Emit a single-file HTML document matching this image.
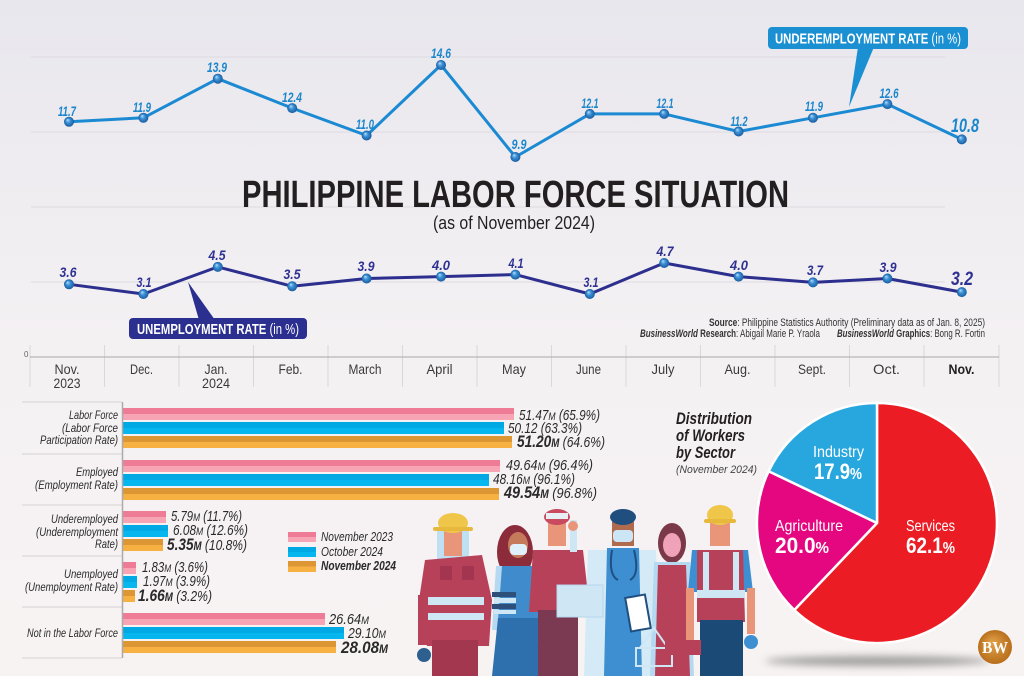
<!DOCTYPE html>
<html><head><meta charset="utf-8"><style>
html,body{margin:0;padding:0;width:1024px;height:676px;overflow:hidden;background:#f7f2f2}
svg{display:block}
text{font-family:"Liberation Sans Narrow","Liberation Sans",sans-serif}
</style></head><body>
<svg width="1024" height="676" viewBox="0 0 1024 676" xmlns="http://www.w3.org/2000/svg">
<defs>
<linearGradient id="bg" x1="0" y1="0" x2="0" y2="1">
<stop offset="0" stop-color="#e8e7ed"/><stop offset="0.5" stop-color="#f4f1f3"/><stop offset="1" stop-color="#f8f3f3"/>
</linearGradient>
<radialGradient id="dot" cx="0.5" cy="0.5" r="0.5" fx="0.35" fy="0.3">
<stop offset="0" stop-color="#b9e0fb"/><stop offset="0.45" stop-color="#3a90d6"/><stop offset="1" stop-color="#1a5c9e"/>
</radialGradient>
<linearGradient id="gp" x1="0" y1="0" x2="0" y2="1"><stop offset="0.5" stop-color="#ef7c97"/><stop offset="0.5" stop-color="#f7a5b4"/></linearGradient>
<linearGradient id="gb" x1="0" y1="0" x2="0" y2="1"><stop offset="0.5" stop-color="#00a9e3"/><stop offset="0.5" stop-color="#05b6ef"/></linearGradient>
<linearGradient id="go" x1="0" y1="0" x2="0" y2="1"><stop offset="0.5" stop-color="#dc9634"/><stop offset="0.5" stop-color="#f7b142"/></linearGradient>
<radialGradient id="bw" cx="0.5" cy="0.5" r="0.5" fx="0.4" fy="0.35"><stop offset="0" stop-color="#e3a24a"/><stop offset="1" stop-color="#b86f1c"/></radialGradient>
<filter id="blur" x="-20%" y="-200%" width="140%" height="500%"><feGaussianBlur stdDeviation="4"/></filter>
</defs>
<rect width="1024" height="676" fill="url(#bg)"/>

<!-- top chart gridlines -->
<g stroke="#dedbe2" stroke-width="1">
<line x1="31" y1="57" x2="945" y2="57"/><line x1="31" y1="132" x2="945" y2="132"/>
<line x1="31" y1="207" x2="945" y2="207"/><line x1="31" y1="282" x2="945" y2="282"/>
</g>

<!-- underemployment line -->
<polyline fill="none" stroke="#1b8ad3" stroke-width="3" stroke-linejoin="round"
points="69,121.8 143.4,117.8 217.8,78.7 292.2,108.1 366.6,135.5 441,65 515.4,157 589.8,113.9 664.2,113.9 738.6,131.5 813,117.8 887.4,104.1 961.8,139.4"/>
<g fill="url(#dot)">
<circle cx="69" cy="121.8" r="5"/><circle cx="143.4" cy="117.8" r="5"/><circle cx="217.8" cy="78.7" r="5"/><circle cx="292.2" cy="108.1" r="5"/><circle cx="366.6" cy="135.5" r="5"/><circle cx="441" cy="65" r="5"/><circle cx="515.4" cy="157" r="5"/><circle cx="589.8" cy="113.9" r="5"/><circle cx="664.2" cy="113.9" r="5"/><circle cx="738.6" cy="131.5" r="5"/><circle cx="813" cy="117.8" r="5"/><circle cx="887.4" cy="104.1" r="5"/><circle cx="961.8" cy="139.4" r="5"/>
</g>
<g fill="#1b86cc" font-style="italic" font-weight="bold" font-size="14" text-anchor="middle">
<text x="67" y="116" textLength="18" lengthAdjust="spacingAndGlyphs">11.7</text>
<text x="142" y="112" textLength="18" lengthAdjust="spacingAndGlyphs">11.9</text>
<text x="217" y="72" textLength="20" lengthAdjust="spacingAndGlyphs">13.9</text>
<text x="292" y="102" textLength="20" lengthAdjust="spacingAndGlyphs">12.4</text>
<text x="365" y="129" textLength="18" lengthAdjust="spacingAndGlyphs">11.0</text>
<text x="441" y="58" textLength="20" lengthAdjust="spacingAndGlyphs">14.6</text>
<text x="519" y="149" textLength="15" lengthAdjust="spacingAndGlyphs">9.9</text>
<text x="590" y="108" textLength="17" lengthAdjust="spacingAndGlyphs">12.1</text>
<text x="665" y="108" textLength="17" lengthAdjust="spacingAndGlyphs">12.1</text>
<text x="739" y="126" textLength="17" lengthAdjust="spacingAndGlyphs">11.2</text>
<text x="814" y="111" textLength="18" lengthAdjust="spacingAndGlyphs">11.9</text>
<text x="889" y="98" textLength="19" lengthAdjust="spacingAndGlyphs">12.6</text>
<text x="965" y="132" font-size="19" textLength="28" lengthAdjust="spacingAndGlyphs">10.8</text>
</g>
<!-- underemployment callout -->
<polygon points="849,107 858,47 874,47" fill="#1a8fd2"/>
<rect x="768" y="27" width="200" height="22" rx="4" fill="#1a8fd2"/>
<text x="775" y="43.5" fill="#fff" font-size="15" font-weight="bold" textLength="186" lengthAdjust="spacingAndGlyphs">UNDEREMPLOYMENT RATE <tspan font-weight="normal">(in %)</tspan></text>

<!-- title -->
<text x="242" y="207" fill="#231f20" font-size="38" font-weight="bold" textLength="547" lengthAdjust="spacingAndGlyphs">PHILIPPINE LABOR FORCE SITUATION</text>
<text x="433" y="229" fill="#231f20" font-size="18" textLength="162" lengthAdjust="spacingAndGlyphs">(as of November 2024)</text>

<!-- unemployment line -->
<polyline fill="none" stroke="#2d2f8e" stroke-width="3" stroke-linejoin="round"
points="69,284.3 143.4,294 217.8,266.9 292.2,286.3 366.6,278.5 441,276.6 515.4,274.6 589.8,294 664.2,263 738.6,276.6 813,282.4 887.4,278.5 961.8,292.1"/>
<g fill="url(#dot)">
<circle cx="69" cy="284.3" r="5"/><circle cx="143.4" cy="294" r="5"/><circle cx="217.8" cy="266.9" r="5"/><circle cx="292.2" cy="286.3" r="5"/><circle cx="366.6" cy="278.5" r="5"/><circle cx="441" cy="276.6" r="5"/><circle cx="515.4" cy="274.6" r="5"/><circle cx="589.8" cy="294" r="5"/><circle cx="664.2" cy="263" r="5"/><circle cx="738.6" cy="276.6" r="5"/><circle cx="813" cy="282.4" r="5"/><circle cx="887.4" cy="278.5" r="5"/><circle cx="961.8" cy="292.1" r="5"/>
</g>
<g fill="#2e3192" font-style="italic" font-weight="bold" font-size="14" text-anchor="middle">
<text x="68" y="277" textLength="17" lengthAdjust="spacingAndGlyphs">3.6</text>
<text x="144" y="287" textLength="15" lengthAdjust="spacingAndGlyphs">3.1</text>
<text x="217" y="260" textLength="17" lengthAdjust="spacingAndGlyphs">4.5</text>
<text x="292" y="279" textLength="17" lengthAdjust="spacingAndGlyphs">3.5</text>
<text x="366" y="271" textLength="17" lengthAdjust="spacingAndGlyphs">3.9</text>
<text x="441" y="270" textLength="18" lengthAdjust="spacingAndGlyphs">4.0</text>
<text x="516" y="268" textLength="15" lengthAdjust="spacingAndGlyphs">4.1</text>
<text x="591" y="287" textLength="15" lengthAdjust="spacingAndGlyphs">3.1</text>
<text x="665" y="256" textLength="17" lengthAdjust="spacingAndGlyphs">4.7</text>
<text x="739" y="270" textLength="18" lengthAdjust="spacingAndGlyphs">4.0</text>
<text x="815" y="275" textLength="16" lengthAdjust="spacingAndGlyphs">3.7</text>
<text x="888" y="272" textLength="17" lengthAdjust="spacingAndGlyphs">3.9</text>
<text x="962" y="285" font-size="19" textLength="22" lengthAdjust="spacingAndGlyphs">3.2</text>
</g>
<!-- unemployment callout -->
<polygon points="188,282 199,320 215,320" fill="#2b2f8f"/>
<rect x="129" y="318" width="178" height="21" rx="4" fill="#2b2f8f"/>
<text x="137" y="334" fill="#fff" font-size="15" font-weight="bold" textLength="162" lengthAdjust="spacingAndGlyphs">UNEMPLOYMENT RATE <tspan font-weight="normal">(in %)</tspan></text>

<!-- source -->
<g fill="#333" font-size="11">
<text x="709" y="326" textLength="276" lengthAdjust="spacingAndGlyphs"><tspan font-weight="bold">Source</tspan>: Philippine Statistics Authority (Preliminary data as of Jan. 8, 2025)</text>
<text x="640" y="337" textLength="180" lengthAdjust="spacingAndGlyphs"><tspan font-weight="bold" font-style="italic">BusinessWorld</tspan><tspan font-weight="bold"> Research</tspan>: Abigail Marie P. Yraola</text>
<text x="837" y="337" textLength="148" lengthAdjust="spacingAndGlyphs"><tspan font-weight="bold" font-style="italic">BusinessWorld</tspan><tspan font-weight="bold"> Graphics</tspan>: Bong R. Fortin</text>
</g>

<!-- month axis -->
<g stroke="#dcd8d9" stroke-width="1">
<line x1="30" y1="345" x2="30" y2="387"/><line x1="104.5" y1="345" x2="104.5" y2="387"/><line x1="179" y1="345" x2="179" y2="387"/><line x1="253.5" y1="345" x2="253.5" y2="387"/><line x1="328" y1="345" x2="328" y2="387"/><line x1="402.5" y1="345" x2="402.5" y2="387"/><line x1="477" y1="345" x2="477" y2="387"/><line x1="551.5" y1="345" x2="551.5" y2="387"/><line x1="626" y1="345" x2="626" y2="387"/><line x1="700.5" y1="345" x2="700.5" y2="387"/><line x1="775" y1="345" x2="775" y2="387"/><line x1="849.5" y1="345" x2="849.5" y2="387"/><line x1="924" y1="345" x2="924" y2="387"/><line x1="999" y1="345" x2="999" y2="387"/>
</g>
<line x1="30" y1="357" x2="999" y2="357" stroke="#a9a7a8" stroke-width="1"/>
<text x="24" y="357" font-size="8" fill="#666">0</text>
<g fill="#3a3a3a" font-size="14" text-anchor="middle">
<text x="67" y="374" textLength="25" lengthAdjust="spacingAndGlyphs">Nov.</text>
<text x="67" y="388" textLength="27" lengthAdjust="spacingAndGlyphs">2023</text>
<text x="141.5" y="374" textLength="23" lengthAdjust="spacingAndGlyphs">Dec.</text>
<text x="216" y="374" textLength="23" lengthAdjust="spacingAndGlyphs">Jan.</text>
<text x="216" y="388" textLength="28" lengthAdjust="spacingAndGlyphs">2024</text>
<text x="290.5" y="374" textLength="24" lengthAdjust="spacingAndGlyphs">Feb.</text>
<text x="365" y="374" textLength="33" lengthAdjust="spacingAndGlyphs">March</text>
<text x="439.5" y="374" textLength="26" lengthAdjust="spacingAndGlyphs">April</text>
<text x="514" y="374" textLength="24" lengthAdjust="spacingAndGlyphs">May</text>
<text x="588.5" y="374" textLength="25" lengthAdjust="spacingAndGlyphs">June</text>
<text x="663" y="374" textLength="23" lengthAdjust="spacingAndGlyphs">July</text>
<text x="737.5" y="374" textLength="26" lengthAdjust="spacingAndGlyphs">Aug.</text>
<text x="812" y="374" textLength="28" lengthAdjust="spacingAndGlyphs">Sept.</text>
<text x="886.5" y="374" textLength="27" lengthAdjust="spacingAndGlyphs">Oct.</text>
<text x="961.5" y="374" font-weight="bold" fill="#222" textLength="26" lengthAdjust="spacingAndGlyphs">Nov.</text>
</g>

<!-- bar chart -->
<g stroke="#d6d2d3" stroke-width="1">
<line x1="22" y1="402" x2="122" y2="402"/><line x1="22" y1="454" x2="122" y2="454"/><line x1="22" y1="505" x2="122" y2="505"/><line x1="22" y1="556" x2="122" y2="556"/><line x1="22" y1="607" x2="122" y2="607"/><line x1="22" y1="658" x2="122" y2="658"/>
</g>
<g>
<rect x="122" y="408" width="392" height="12" fill="url(#gp)"/>
<rect x="122" y="422" width="382" height="12" fill="url(#gb)"/>
<rect x="122" y="436" width="390" height="12" fill="url(#go)"/>
<rect x="122" y="460" width="378" height="12" fill="url(#gp)"/>
<rect x="122" y="474" width="367" height="12" fill="url(#gb)"/>
<rect x="122" y="488" width="377" height="12" fill="url(#go)"/>
<rect x="122" y="511" width="44" height="12" fill="url(#gp)"/>
<rect x="122" y="525" width="46" height="12" fill="url(#gb)"/>
<rect x="122" y="539" width="41" height="12" fill="url(#go)"/>
<rect x="122" y="562" width="14" height="12" fill="url(#gp)"/>
<rect x="122" y="576" width="15" height="12" fill="url(#gb)"/>
<rect x="122" y="590" width="13" height="12" fill="url(#go)"/>
<rect x="122" y="613" width="203" height="12" fill="url(#gp)"/>
<rect x="122" y="627" width="222" height="12" fill="url(#gb)"/>
<rect x="122" y="641" width="214" height="12" fill="url(#go)"/>
</g>
<line x1="122.5" y1="402" x2="122.5" y2="658" stroke="#aaa" stroke-width="1.5"/>
<g fill="#2a2a2a" font-style="italic" font-size="15">
<text x="519" y="420" textLength="81" lengthAdjust="spacingAndGlyphs">51.47<tspan font-size="11">M</tspan> (65.9%)</text>
<text x="508" y="433" textLength="74" lengthAdjust="spacingAndGlyphs">50.12 (63.3%)</text>
<text x="517" y="447" textLength="88" lengthAdjust="spacingAndGlyphs"><tspan font-weight="bold" font-size="17">51.20<tspan font-size="12">M</tspan></tspan> (64.6%)</text>
<text x="506" y="470" textLength="87" lengthAdjust="spacingAndGlyphs">49.64<tspan font-size="11">M</tspan> (96.4%)</text>
<text x="493" y="484" textLength="82" lengthAdjust="spacingAndGlyphs">48.16<tspan font-size="11">M</tspan> (96.1%)</text>
<text x="504" y="498" textLength="93" lengthAdjust="spacingAndGlyphs"><tspan font-weight="bold" font-size="17">49.54<tspan font-size="12">M</tspan></tspan> (96.8%)</text>
<text x="171" y="521" textLength="71" lengthAdjust="spacingAndGlyphs">5.79<tspan font-size="11">M</tspan> (11.7%)</text>
<text x="173" y="535" textLength="75" lengthAdjust="spacingAndGlyphs">6.08<tspan font-size="11">M</tspan> (12.6%)</text>
<text x="167" y="550" textLength="80" lengthAdjust="spacingAndGlyphs"><tspan font-weight="bold" font-size="17">5.35<tspan font-size="12">M</tspan></tspan> (10.8%)</text>
<text x="142" y="572" textLength="66" lengthAdjust="spacingAndGlyphs">1.83<tspan font-size="11">M</tspan> (3.6%)</text>
<text x="143" y="586" textLength="67" lengthAdjust="spacingAndGlyphs">1.97<tspan font-size="11">M</tspan> (3.9%)</text>
<text x="138" y="601" textLength="74" lengthAdjust="spacingAndGlyphs"><tspan font-weight="bold" font-size="17">1.66<tspan font-size="12">M</tspan></tspan> (3.2%)</text>
<text x="329" y="624" textLength="40" lengthAdjust="spacingAndGlyphs">26.64<tspan font-size="11">M</tspan></text>
<text x="348" y="638" textLength="38" lengthAdjust="spacingAndGlyphs">29.10<tspan font-size="11">M</tspan></text>
<text x="341" y="653" font-weight="bold" font-size="17" textLength="47" lengthAdjust="spacingAndGlyphs">28.08<tspan font-size="12">M</tspan></text>
</g>
<g fill="#2a2a2a" font-style="italic" font-size="12" text-anchor="end">
<text x="118" y="419" textLength="49" lengthAdjust="spacingAndGlyphs">Labor Force</text>
<text x="118" y="432" textLength="56" lengthAdjust="spacingAndGlyphs">(Labor Force</text>
<text x="118" y="444" textLength="78" lengthAdjust="spacingAndGlyphs">Participation Rate)</text>
<text x="118" y="476" textLength="42" lengthAdjust="spacingAndGlyphs">Employed</text>
<text x="118" y="489" textLength="83" lengthAdjust="spacingAndGlyphs">(Employment Rate)</text>
<text x="118" y="523" textLength="67" lengthAdjust="spacingAndGlyphs">Underemployed</text>
<text x="118" y="536" textLength="82" lengthAdjust="spacingAndGlyphs">(Underemployment</text>
<text x="118" y="548" textLength="23" lengthAdjust="spacingAndGlyphs">Rate)</text>
<text x="118" y="578" textLength="54" lengthAdjust="spacingAndGlyphs">Unemployed</text>
<text x="118" y="591" textLength="93" lengthAdjust="spacingAndGlyphs">(Unemployment Rate)</text>
<text x="118" y="637" textLength="91" lengthAdjust="spacingAndGlyphs">Not in the Labor Force</text>
</g>
<!-- legend -->
<rect x="288" y="532" width="28" height="10" fill="url(#gp)"/>
<rect x="288" y="547" width="28" height="10" fill="url(#gb)"/>
<rect x="288" y="561" width="28" height="11" fill="url(#go)"/>
<g fill="#2a2a2a" font-style="italic" font-size="13">
<text x="321" y="541" textLength="72" lengthAdjust="spacingAndGlyphs">November 2023</text>
<text x="321" y="556" textLength="62" lengthAdjust="spacingAndGlyphs">October 2024</text>
<text x="321" y="570" font-weight="bold" textLength="75" lengthAdjust="spacingAndGlyphs">November 2024</text>
</g>

<!-- people illustration -->
<g>
<!-- person 1 firefighter -->
<rect x="437" y="527" width="32" height="36" rx="4" fill="#bfe0f3"/>
<rect x="444" y="530" width="18" height="26" fill="#e8957a"/>
<ellipse cx="453" cy="523" rx="15" ry="10" fill="#f0c64a"/>
<rect x="433" y="527" width="40" height="4" rx="2" fill="#e6b93c"/>
<polygon points="425,560 482,555 492,600 489,646 427,646 419,600" fill="#b8415a"/>
<rect x="440" y="566" width="12" height="14" fill="#a33550"/><rect x="462" y="566" width="12" height="14" fill="#a33550"/>
<rect x="428" y="597" width="56" height="8" fill="#cfe6f5"/>
<rect x="428" y="613" width="56" height="7" fill="#cfe6f5"/>
<rect x="432" y="640" width="46" height="36" fill="#a3374f"/>
<rect x="418" y="595" width="10" height="50" fill="#b8415a"/>
<circle cx="424" cy="655" r="7" fill="#2d5f8f"/>
<!-- person 2 woman student -->
<ellipse cx="515" cy="552" rx="18" ry="27" fill="#8c2b3a"/>
<ellipse cx="518" cy="545" rx="10" ry="13" fill="#c57a5c"/>
<rect x="510" y="544" width="17" height="11" rx="4" fill="#dff0fa"/>
<polygon points="496,566 538,566 548,630 492,630" fill="#b5d9f0"/>
<polygon points="502,566 534,566 540,620 498,620" fill="#3f8bcc"/>
<polygon points="498,618 540,618 546,676 492,676" fill="#2e6fae"/>
<rect x="492" y="592" width="24" height="5" fill="#2d4f7a"/><rect x="494" y="598" width="22" height="5" fill="#cfe6f5"/><rect x="492" y="604" width="24" height="5" fill="#2d4f7a"/><rect x="494" y="610" width="22" height="4" fill="#cfe6f5"/>
<rect x="540" y="630" width="16" height="20" fill="#1e3f66" transform="rotate(15 548 640)"/>
<!-- person 3 delivery -->
<rect x="548" y="520" width="18" height="26" fill="#e8957a"/>
<ellipse cx="557" cy="517" rx="13" ry="8" fill="#c94a5f"/>
<rect x="546" y="513" width="22" height="6" fill="#e7eef4"/>
<polygon points="533,550 583,550 590,612 529,612" fill="#b8415a"/>
<rect x="570" y="520" width="7" height="32" fill="#cfe6f5"/>
<circle cx="573" cy="526" r="5" fill="#e8957a"/>
<rect x="538" y="610" width="40" height="66" fill="#7b3a52"/>
<!-- person 4 doctor -->
<polygon points="588,550 656,550 662,676 584,676" fill="#d4eaf7"/>
<rect x="557" y="585" width="46" height="32" fill="#cfe6f5" stroke="#b6d6ec" stroke-width="1"/>
<polygon points="607,548 639,548 642,676 604,676" fill="#3d8fd1"/>
<rect x="612" y="518" width="22" height="28" fill="#b06a4e"/>
<ellipse cx="623" cy="517" rx="13" ry="8" fill="#1f4e7f"/>
<rect x="613" y="530" width="20" height="12" rx="4" fill="#cde6f5"/>
<path d="M612,550 Q608,575 618,580 M634,550 Q640,575 630,580" fill="none" stroke="#1f4e7f" stroke-width="2"/>
<rect x="628" y="596" width="20" height="34" fill="#fff" stroke="#1f4e7f" stroke-width="2" transform="rotate(-10 638 613)"/>
<!-- person 5 woman apron -->
<ellipse cx="672" cy="543" rx="14" ry="20" fill="#7b3848"/>
<ellipse cx="672" cy="545" rx="9" ry="12" fill="#f0a3b8"/>
<polygon points="654,562 690,562 694,676 650,676" fill="#b5d9f0"/>
<polygon points="658,565 686,565 690,676 655,676" fill="#b8415a"/>
<rect x="636" y="648" width="36" height="18" fill="none" stroke="#cfe6f5" stroke-width="2"/>
<path d="M640,648 L654,628 L668,648" fill="none" stroke="#cfe6f5" stroke-width="2"/>
<!-- person 6 construction -->
<rect x="710" y="518" width="20" height="28" fill="#e8957a"/>
<ellipse cx="720" cy="515" rx="13" ry="10" fill="#f0c64a"/>
<rect x="704" y="519" width="32" height="4" rx="2" fill="#e6b93c"/>
<polygon points="692,550 748,550 753,592 688,592" fill="#3d8fd1"/>
<rect x="686" y="588" width="8" height="52" fill="#e8957a"/><rect x="747" y="588" width="8" height="46" fill="#e8957a"/>
<polygon points="697,550 743,550 745,622 697,622" fill="#b8415a"/>
<rect x="697" y="590" width="48" height="8" fill="#cfe6f5"/>
<rect x="703" y="552" width="6" height="40" fill="#cfe6f5"/><rect x="733" y="552" width="6" height="40" fill="#cfe6f5"/>
<rect x="700" y="620" width="43" height="56" fill="#1c4a77"/>
<rect x="665" y="640" width="36" height="15" fill="#b8415a"/>
<circle cx="751" cy="642" r="7" fill="#3d8fd1"/>
</g>

<!-- pie -->
<ellipse cx="877" cy="661" rx="112" ry="5" fill="#555" opacity="0.55" filter="url(#blur)"/>
<g stroke="#ffffff" stroke-width="2.5" stroke-linejoin="round">
<path d="M877,523 L877,403 A120,120 0 1 1 794.3,610 Z" fill="#ec1c24"/>
<path d="M877,523 L794.3,610 A120,120 0 0 1 768.7,471.2 Z" fill="#e4077f"/>
<path d="M877,523 L768.7,471.2 A120,120 0 0 1 877,403 Z" fill="#28a7df"/>
</g>
<g fill="#fff">
<text x="813" y="457" font-size="16" textLength="51" lengthAdjust="spacingAndGlyphs">Industry</text>
<text x="814" y="479" font-size="22" font-weight="bold" textLength="48" lengthAdjust="spacingAndGlyphs">17.9<tspan font-size="16">%</tspan></text>
<text x="775" y="531" font-size="16" textLength="68" lengthAdjust="spacingAndGlyphs">Agriculture</text>
<text x="775" y="553" font-size="22" font-weight="bold" textLength="54" lengthAdjust="spacingAndGlyphs">20.0<tspan font-size="16">%</tspan></text>
<text x="906" y="531" font-size="16" textLength="49" lengthAdjust="spacingAndGlyphs">Services</text>
<text x="906" y="553" font-size="22" font-weight="bold" textLength="49" lengthAdjust="spacingAndGlyphs">62.1<tspan font-size="16">%</tspan></text>
</g>
<g fill="#231f20" font-style="italic">
<text x="676" y="424" font-size="17" font-weight="bold" textLength="76" lengthAdjust="spacingAndGlyphs">Distribution</text>
<text x="676" y="441" font-size="17" font-weight="bold" textLength="69" lengthAdjust="spacingAndGlyphs">of Workers</text>
<text x="676" y="458" font-size="17" font-weight="bold" textLength="59" lengthAdjust="spacingAndGlyphs">by Sector</text>
<text x="676" y="473" font-size="11" fill="#444" textLength="81" lengthAdjust="spacingAndGlyphs">(November 2024)</text>
</g>
<!-- BW logo -->
<circle cx="995" cy="647" r="17" fill="url(#bw)"/>
<text x="995" y="653" text-anchor="middle" fill="#fff" font-size="17" font-weight="bold" style="font-family:'Liberation Serif',serif" textLength="26" lengthAdjust="spacingAndGlyphs">BW</text>
</svg>
</body></html>
